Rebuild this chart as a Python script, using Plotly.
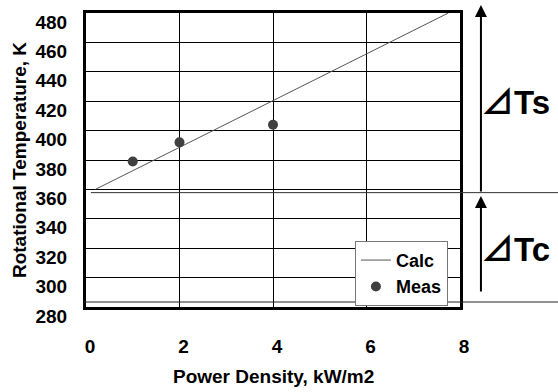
import plotly.graph_objects as go

calc_x = [0.2, 7.75]
calc_y = [360, 480]
meas_x = [1, 2, 4]
meas_y = [379, 392, 404]
x_ticks = [0, 2, 4, 6, 8]
y_ticks = list(range(280, 481, 20))

FONT = "Liberation Sans, Arial, Noto Sans CJK JP, DejaVu Sans"
Y0, Y1 = 280, 480

def yp(v):
    return (v - Y0) / (Y1 - Y0)

fig = go.Figure()
fig.add_trace(go.Scatter(x=calc_x, y=calc_y, mode="lines", name="<b>Calc</b>",
                         line=dict(color="#555555", width=1)))
fig.add_trace(go.Scatter(x=meas_x, y=meas_y, mode="markers", name="<b>Meas</b>",
                         marker=dict(color="#404040", size=10)))

# extended horizontal lines
fig.add_shape(type="line", xref="paper", yref="paper", x0=0.013, x1=1.3,
              y0=yp(357.8), y1=yp(357.8), line=dict(color="#333333", width=1))
fig.add_shape(type="line", xref="paper", yref="paper", x0=-0.005, x1=1.3,
              y0=yp(283.4), y1=yp(283.4), line=dict(color="#222222", width=1))

# arrows (paper coords)
fig.add_annotation(x=1.056, y=1.027, xref="paper", yref="paper", ax=0, ay=188,
                   showarrow=True, arrowhead=2, arrowsize=1.2, arrowwidth=2,
                   arrowcolor="black", text="")
fig.add_annotation(x=1.056, y=yp(355.5), xref="paper", yref="paper", ax=0, ay=97,
                   showarrow=True, arrowhead=2, arrowsize=1.2, arrowwidth=2,
                   arrowcolor="black", text="")

fig.add_annotation(x=1.050, y=0.697, xref="paper", yref="paper", text="<b>⊿Ts</b>",
                   showarrow=False, xanchor="left", yanchor="middle",
                   font=dict(family=FONT, size=33, color="black"))
fig.add_annotation(x=1.050, y=0.194, xref="paper", yref="paper", text="<b>⊿Tc</b>",
                   showarrow=False, xanchor="left", yanchor="middle",
                   font=dict(family=FONT, size=33, color="black"))

# x-axis title
fig.add_annotation(x=0.5, y=-0.238, xref="paper", yref="paper",
                   text="<b>Power Density, kW/m2</b>", showarrow=False,
                   xanchor="center", yanchor="middle",
                   font=dict(family=FONT, size=19, color="black"))

fig.update_xaxes(range=[0, 8], tickvals=x_ticks, ticktext=[f"<b>{t}</b>" for t in x_ticks],
                 showgrid=True, gridcolor="black", gridwidth=1, automargin=False,
                 showline=True, linecolor="black", linewidth=3, mirror=True,
                 zeroline=False, ticks="", ticklabelstandoff=20, ticklabelshift=4,
                 tickfont=dict(family=FONT, size=19, color="black"))
fig.update_yaxes(range=[Y0, Y1], tickvals=y_ticks, ticktext=[f"<b>{t}</b>" for t in y_ticks],
                 showgrid=True, gridcolor="black", gridwidth=1, automargin=False,
                 showline=True, linecolor="black", linewidth=3, mirror=True,
                 zeroline=False, ticks="", ticklabelstandoff=12, ticklabelshift=9,
                 tickfont=dict(family=FONT, size=19, color="black"),
                 title=dict(text="<b>Rotational Temperature, K</b>", standoff=4,
                            font=dict(family=FONT, size=19, color="black")))

fig.update_layout(
    width=558, height=392,
    margin=dict(l=86, r=98, t=13, b=85),
    paper_bgcolor="white", plot_bgcolor="white",
    showlegend=True,
    legend=dict(x=0.719, y=0.225, xanchor="left", yanchor="top",
                bgcolor="white", bordercolor="#777777", borderwidth=1,
                itemwidth=30, tracegroupgap=0,
                font=dict(family=FONT, size=18, color="black")),
)

fig.write_html("out.html")
